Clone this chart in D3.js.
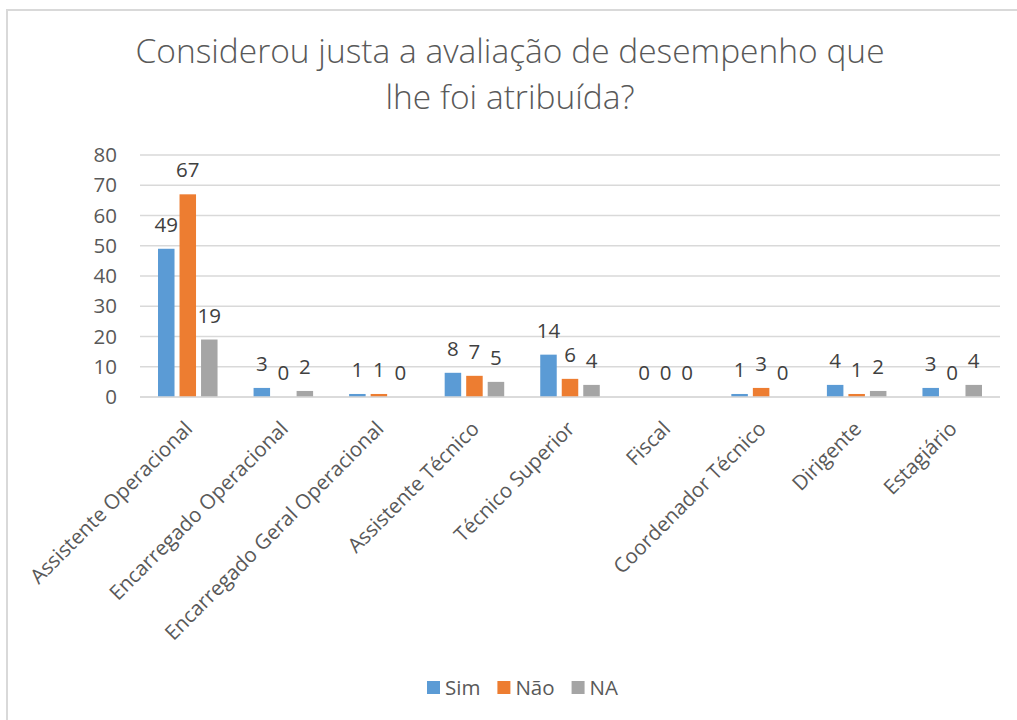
<!DOCTYPE html>
<html><head><meta charset="utf-8">
<script src="https://cdn.jsdelivr.net/npm/d3@7"></script>
<style>
html,body{margin:0;padding:0;background:#fff;}
svg{display:block;font-family:"Open Sans",sans-serif;}
</style></head>
<body><svg id="c" width="1017" height="720"></svg>
<script>
const titleLines = ["Considerou justa a avaliação de desempenho que", "lhe foi atribuída?"];
const categories = ["Assistente Operacional","Encarregado Operacional","Encarregado Geral Operacional","Assistente Técnico","Técnico Superior","Fiscal","Coordenador Técnico","Dirigente","Estagiário"];
const seriesNames = ["Sim","Não","NA"];
const simValues = [49,3,1,8,14,0,1,4,3];
const naoValues = [67,0,1,7,6,0,3,1,0];
const naValues  = [19,2,0,5,4,0,0,2,4];
const yTicks = [0,10,20,30,40,50,60,70,80];
const colors = ["#5B9BD5","#ED7D31","#A5A5A5"];

const seriesValues = [simValues, naoValues, naValues];
const data = categories.map((c,i)=>({cat:c, vals: seriesNames.map((s,j)=>({s, v: seriesValues[j][i], j}))}));

const svg = d3.select("#c");
const textCol = "#595959";

// chart border
svg.append("rect").attr("x",7).attr("y",10).attr("width",1030).attr("height",730)
  .attr("fill","#fff").attr("stroke","#d9d9d9").attr("stroke-width",2);

// title
svg.append("g").selectAll("text").data(titleLines).join("text")
  .attr("x",510).attr("y",(d,i)=>63+i*46)
  .attr("text-anchor","middle").attr("fill",textCol)
  .attr("font-size",33.5).attr("font-weight",300).text(d=>d);

const pLeft=140, pRight=1000, pTop=155, pBottom=397;
const y = d3.scaleLinear().domain([0,80]).range([pBottom, pTop]);
const x0 = d3.scaleBand().domain(categories).range([pLeft,pRight]).paddingInner(0.377).paddingOuter(0.1885);
const x1 = d3.scaleBand().domain(seriesNames).range([0,x0.bandwidth()]).paddingInner(0.233);

// gridlines
svg.append("g").selectAll("line").data(yTicks).join("line")
  .attr("x1",pLeft).attr("x2",pRight).attr("y1",d=>y(d)).attr("y2",d=>y(d))
  .attr("stroke","#d9d9d9").attr("stroke-width",1.5);

// y axis labels
const yAxis = d3.axisLeft(y).tickValues(yTicks).tickSize(0).tickPadding(0);
const ya = svg.append("g").attr("transform",`translate(117,0)`).call(yAxis);
ya.select(".domain").remove();
ya.selectAll("text").attr("fill",textCol).attr("font-size",20.5).attr("font-family","Open Sans");

// bars
const groups = svg.append("g").selectAll("g").data(data).join("g")
  .attr("transform",d=>`translate(${x0(d.cat)},0)`);
groups.selectAll("rect").data(d=>d.vals).join("rect")
  .attr("x",d=>x1(d.s)).attr("width",x1.bandwidth())
  .attr("y",d=>y(d.v)).attr("height",d=>pBottom-y(d.v))
  .attr("fill",d=>colors[d.j]);
groups.selectAll("text").data(d=>d.vals).join("text")
  .attr("x",d=>x1(d.s)+x1.bandwidth()/2).attr("y",d=>y(d.v)-17)
  .attr("text-anchor","middle").attr("fill","#404040").attr("font-size",20.5)
  .text(d=>d.v);

// x axis line
svg.append("line").attr("x1",pLeft).attr("x2",pRight).attr("y1",pBottom).attr("y2",pBottom)
  .attr("stroke","#d9d9d9").attr("stroke-width",1.5);

// category labels
const xAxis = d3.axisBottom(x0).tickSize(0).tickPadding(0);
const xa = svg.append("g").attr("transform",`translate(0,${pBottom})`).call(xAxis);
xa.select(".domain").remove();
xa.selectAll("text").attr("fill",textCol).attr("font-size",20.5).attr("font-family","Open Sans")
  .attr("text-anchor","end").attr("dy",null)
  .attr("transform","translate(6,33) rotate(-45)").attr("y",0).attr("x",0);

// legend
const lg = svg.append("g");
let lx = 427;
seriesNames.forEach((s,j)=>{
  lg.append("rect").attr("x",lx).attr("y",681).attr("width",13).attr("height",13).attr("fill",colors[j]);
  const t = lg.append("text").attr("x",lx+18).attr("y",695).attr("fill",textCol).attr("font-size",20.5).text(s);
  lx += 18 + t.node().getComputedTextLength() + 17;
});
</script></body></html>
